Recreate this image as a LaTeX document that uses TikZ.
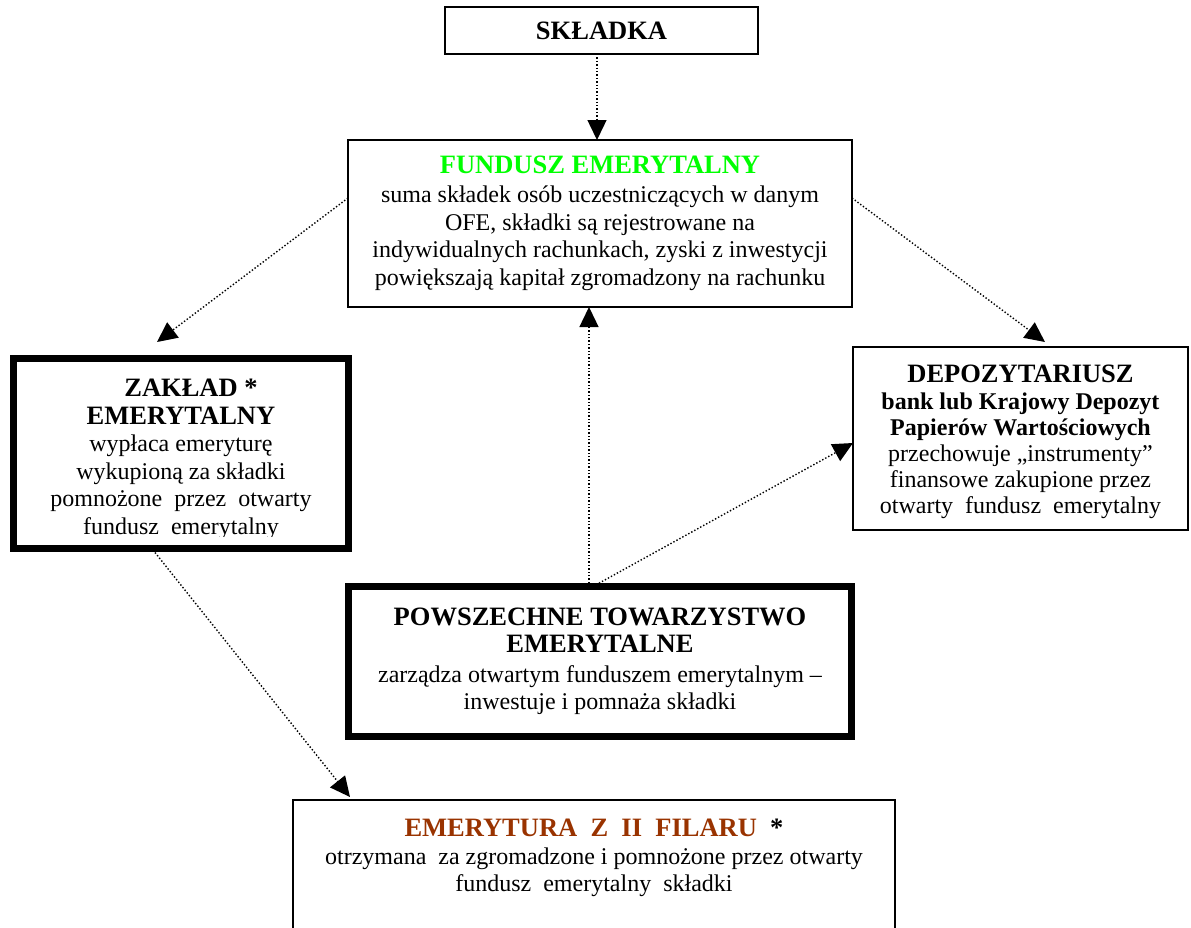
\documentclass[tikz,border=0pt]{standalone}
\usepackage{fontspec}
\setmainfont{Liberation Serif}
\usetikzlibrary{arrows.meta}
\definecolor{fundgreen}{RGB}{0,255,0}
\definecolor{pillarbrown}{RGB}{153,51,0}
\newcommand{\ttlfont}{\fontsize{13.25}{13.75}\selectfont\bfseries}
\begin{document}
\begin{tikzpicture}[x=0.5pt,y=-0.5pt,
  txt/.style={font=\fontsize{12}{13.75}\selectfont, align=center, inner sep=0pt},
  thinbox/.style={draw, line width=0.8pt, outer sep=0pt, txt},
  thickbox/.style={draw, line width=3.5pt, inner sep=0pt, outer sep=0pt},
  flow/.style={line width=0.7pt, dash pattern=on 0.7pt off 1pt,
    -{Triangle[length=10pt,width=9.5pt]}}
]
\useasboundingbox (0,0) rectangle (1191,928);
\clip (0,0) rectangle (1191,928);

% boxes
\node[thinbox, minimum width=156.5pt, minimum height=23.5pt] (skladka) at (601.5,30.5)
  {\raisebox{-1pt}{\ttlfont SKŁADKA}};

\node[thinbox, minimum width=252pt, minimum height=83.5pt] (fundusz) at (600,223.5)
  {{\ttlfont\color{fundgreen}FUNDUSZ EMERYTALNY}\\[0.75pt]
   suma składek osób uczestniczących w danym\\
   OFE, składki są rejestrowane na\\
   indywidualnych rachunkach, zyski z inwestycji\\
   powiększają kapitał zgromadzony na rachunku};

\node[thickbox, minimum width=167.5pt, minimum height=95pt] (zaklad) at (181,453.5) {};
\begin{scope}
  \clip (17,362) rectangle (345,536);
  \node[txt, anchor=north] (zakladtext) at (181,379)
    {{\ttlfont\hspace*{10pt}ZAKŁAD *}\\
     {\ttlfont EMERYTALNY}\\
     wypłaca emeryturę\\
     wykupioną za składki\\
     pomnożone\ \ przez\ \ otwarty\\
     fundusz\ \ emerytalny};
\end{scope}

\node[thinbox, minimum width=167.5pt, minimum height=91.5pt] (depoz) at (1020.5,438.5) {};
\node[txt, font=\fontsize{12}{13.1}\selectfont, anchor=north] (depoztext) at (1020.5,365)
  {{\ttlfont DEPOZYTARIUSZ}\\
   \textbf{bank lub Krajowy Depozyt}\\
   \textbf{Papierów Wartościowych}\\
   przechowuje „instrumenty”\\
   finansowe zakupione przez\\
   otwarty\ \ fundusz\ \ emerytalny};

\node[thickbox, txt, minimum width=251.5pt, minimum height=75pt] (pte) at (600,661.5)
  {{\ttlfont POWSZECHNE TOWARZYSTWO}\\
   {\ttlfont EMERYTALNE}\\[1pt]
   zarządza otwartym funduszem emerytalnym –\\
   inwestuje i pomnaża składki};

\node[thinbox, minimum width=301pt, minimum height=80pt] (emer) at (594,880) {};
\node[txt, anchor=north] (emertext) at (594,819)
  {{\ttlfont\color{pillarbrown}EMERYTURA\ \ Z\ \ II\ \ FILARU\ \ }{\ttlfont *}\\
   otrzymana\ \ za zgromadzone i pomnożone przez otwarty\\
   fundusz\ \ emerytalny\ \ składki};

% connectors
\draw[flow] ([xshift=-2.25pt]skladka.south) -- ([xshift=-2.25pt]skladka.south |- fundusz.north);
\draw[flow] ([yshift=12.75pt]fundusz.west) -- ([xshift=-12pt,yshift=8.25pt]zaklad.north);
\draw[flow] ([yshift=12.75pt]fundusz.east) -- ([xshift=12.25pt,yshift=2.5pt]depoz.north);
\draw[flow] ([xshift=-5.5pt]pte.north) -- ([xshift=-5.5pt]pte.north |- fundusz.south);
\draw[flow] ([xshift=-3.5pt]pte.north) -- ([yshift=-2.25pt]depoz.west);
\draw[flow] ([xshift=-13pt,yshift=-2pt]zaklad.south) -- ([xshift=-122pt,yshift=1.5pt]emer.north);
\end{tikzpicture}
\end{document}
